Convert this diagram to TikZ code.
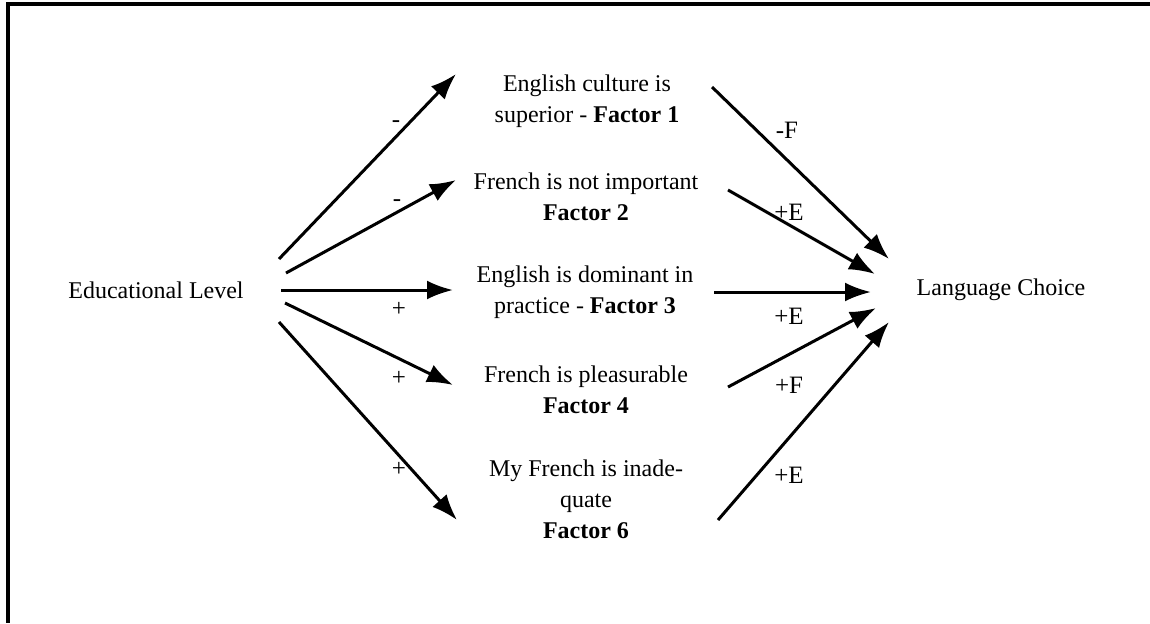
\documentclass[tikz,border=0pt]{standalone}
\usepackage{fontspec}
\setmainfont{Liberation Serif}
\usetikzlibrary{arrows.meta}
\begin{document}
\begin{tikzpicture}[x=0.5pt,y=-0.5pt,
  txt/.style={align=center,inner sep=0pt,font=\fontsize{12}{15.5}\selectfont},
  lbl/.style={inner sep=0pt,font=\fontsize{12.5}{14}\selectfont},
  arr/.style={line width=1.5pt,-{Latex[length=13pt,width=9.5pt]}},
  frame/.style={line width=1.6pt}]
\useasboundingbox (0,0) rectangle (1150,623);
% frame
\coordinate (ftr) at (1150,4);
\coordinate (ftl) at (8,4);
\coordinate (fbl) at (8,623);
\draw[frame] (ftr) -- (ftl) -- (fbl);
% text nodes
\node[txt] (edu) at (156,290) {Educational Level};
\node[txt] (lang) at (1001,290) {Language Choice};
\node[txt] (f1) at (587,101) {English culture is\\superior - \textbf{Factor 1}};
\node[txt] (f2) at (586,197) {French is not important\\\textbf{Factor 2}};
\node[txt] (f3) at (585,292) {English is dominant in\\practice - \textbf{Factor 3}};
\node[txt] (f4) at (586,390) {French is pleasurable\\\textbf{Factor 4}};
\node[txt] (f6) at (586,499) {My French is inade-\\quate\\\textbf{Factor 6}};
% arrow end points
\coordinate (a1s) at (279,259); \coordinate (a1e) at (456,74);
\coordinate (a2s) at (286,273); \coordinate (a2e) at (456,180);
\coordinate (a3s) at (281,290); \coordinate (a3e) at (453,290);
\coordinate (a4s) at (285,303); \coordinate (a4e) at (453,385);
\coordinate (a5s) at (279,322); \coordinate (a5e) at (457,520);
\coordinate (b1s) at (712,87);  \coordinate (b1e) at (889,259);
\coordinate (b2s) at (728,190); \coordinate (b2e) at (875,274);
\coordinate (b3s) at (714,292); \coordinate (b3e) at (871,292);
\coordinate (b4s) at (728,387); \coordinate (b4e) at (876,308);
\coordinate (b5s) at (718,520); \coordinate (b5e) at (889,322);
\draw[arr] (a1s) -- (a1e);
\draw[arr] (a2s) -- (a2e);
\draw[arr] (a3s) -- (a3e);
\draw[arr] (a4s) -- (a4e);
\draw[arr] (a5s) -- (a5e);
\draw[arr] (b1s) -- (b1e);
\draw[arr] (b2s) -- (b2e);
\draw[arr] (b3s) -- (b3e);
\draw[arr] (b4s) -- (b4e);
\draw[arr] (b5s) -- (b5e);
% labels
\node[lbl] (l1) at (396,124) {-};
\node[lbl] (l2) at (397,203) {-};
\node[lbl] (l3) at (399,309) {+};
\node[lbl] (l4) at (399,378) {+};
\node[lbl] (l5) at (399,469) {+};
\node[lbl] (r1) at (787,130) {-F};
\node[lbl] (r2) at (789,212) {+E};
\node[lbl] (r3) at (789,316) {+E};
\node[lbl] (r4) at (789,385) {+F};
\node[lbl] (r5) at (789,475) {+E};
\end{tikzpicture}
\end{document}
